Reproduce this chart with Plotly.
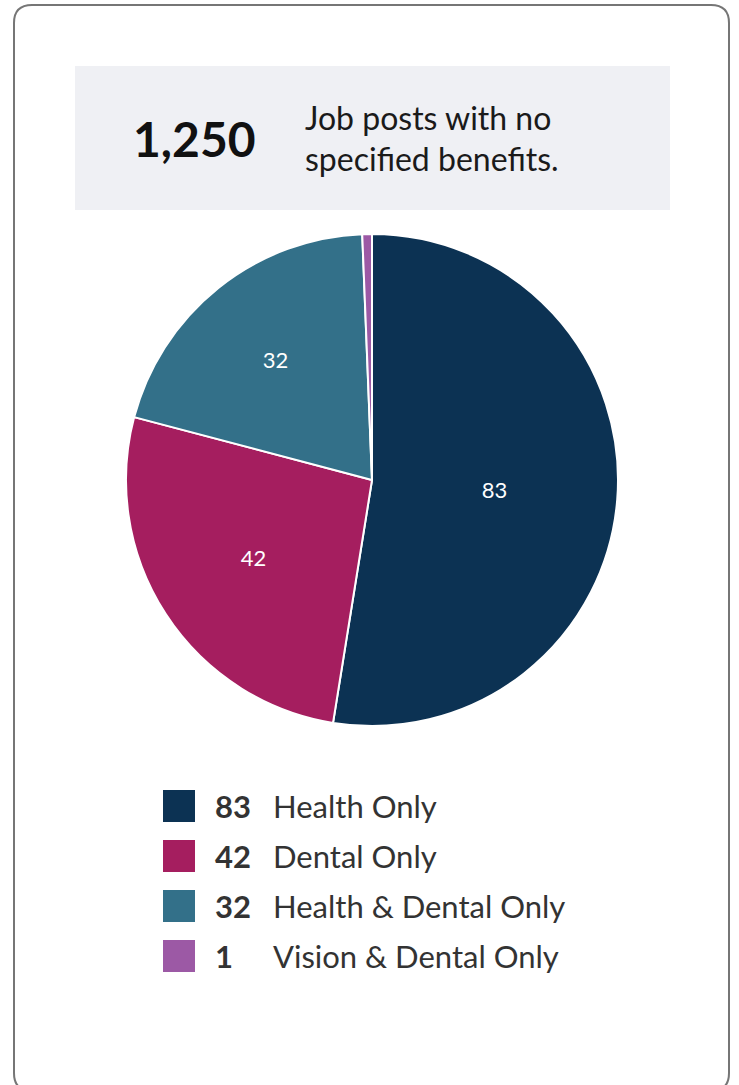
import plotly.graph_objects as go

W, H = 739, 1085

# data
labels = ["Health Only", "Dental Only", "Health & Dental Only", "Vision & Dental Only"]
values = [83, 42, 32, 1]
colors = ["#0c3253", "#a51e5f", "#337089", "#9c59a5"]
total_posts = "1,250"
headline = ["Job posts with no", "specified benefits."]

FONT = "Lato"


def px(x):
    return x / W


def py(y):
    return 1 - y / H


fig = go.Figure()

# pie centred at (372, 480) px with radius 246 px
fig.add_trace(go.Pie(
    labels=labels,
    values=values,
    sort=False,
    direction="clockwise",
    rotation=0,
    marker=dict(colors=colors, line=dict(color="white", width=2)),
    textposition="inside",
    insidetextorientation="horizontal",
    textfont=dict(family=FONT, size=22, color="white"),
    texttemplate=["%{value}", "%{value}", "%{value}", ""],
    domain=dict(x=[px(372 - 246), px(372 + 246)], y=[py(480 + 246), py(480 - 246)]),
    showlegend=False,
    hoverinfo="label+value",
))

shapes = []
annotations = []

# card border with rounded corners
x0, x1, y0, y1, r = px(14), px(729), py(5), py(1091), 18
rx, ry = r / W, r / H
path = (f"M {x0 + rx},{y0} L {x1 - rx},{y0} Q {x1},{y0} {x1},{y0 - ry} "
        f"L {x1},{y1 + ry} Q {x1},{y1} {x1 - rx},{y1} "
        f"L {x0 + rx},{y1} Q {x0},{y1} {x0},{y1 + ry} "
        f"L {x0},{y0 - ry} Q {x0},{y0} {x0 + rx},{y0} Z")
shapes.append(dict(type="path", xref="paper", yref="paper", path=path,
                   line=dict(color="#767676", width=2), layer="below"))

# grey header box
shapes.append(dict(type="rect", xref="paper", yref="paper",
                   x0=px(75), x1=px(670), y0=py(210), y1=py(66),
                   fillcolor="#eff0f4", line=dict(width=0), layer="below"))

annotations.append(dict(x=px(194), y=py(139), xref="paper", yref="paper",
                        text=f"<b>{total_posts}</b>", showarrow=False,
                        xanchor="center", yanchor="middle",
                        font=dict(family=FONT, size=48, color="#111111")))
for i, line in enumerate(headline):
    annotations.append(dict(x=px(303), y=py(117 + 41 * i), xref="paper", yref="paper",
                            text=line, showarrow=False,
                            xanchor="left", yanchor="middle",
                            font=dict(family=FONT, size=32, color="#1a1a1a")))

# custom legend
for i, (lab, val, col) in enumerate(zip(labels, values, colors)):
    yc = 806 + 50 * i
    shapes.append(dict(type="rect", xref="paper", yref="paper",
                       x0=px(163), x1=px(195), y0=py(yc + 16), y1=py(yc - 16),
                       fillcolor=col, line=dict(width=0)))
    annotations.append(dict(x=px(213), y=py(yc), xref="paper", yref="paper",
                            text=f"<b>{val}</b>", showarrow=False,
                            xanchor="left", yanchor="middle",
                            font=dict(family=FONT, size=31, color="#333333")))
    annotations.append(dict(x=px(271), y=py(yc), xref="paper", yref="paper",
                            text=lab, showarrow=False,
                            xanchor="left", yanchor="middle",
                            font=dict(family=FONT, size=31, color="#333333")))

fig.update_layout(
    width=W, height=H,
    margin=dict(l=0, r=0, t=0, b=0),
    paper_bgcolor="white",
    plot_bgcolor="white",
    shapes=shapes,
    annotations=annotations,
    showlegend=False,
)

# drop the default 8px page margin so the figure fills the window
fig.write_html("out.html", config={"displayModeBar": False},
               post_script="document.body.style.margin = '0';")
